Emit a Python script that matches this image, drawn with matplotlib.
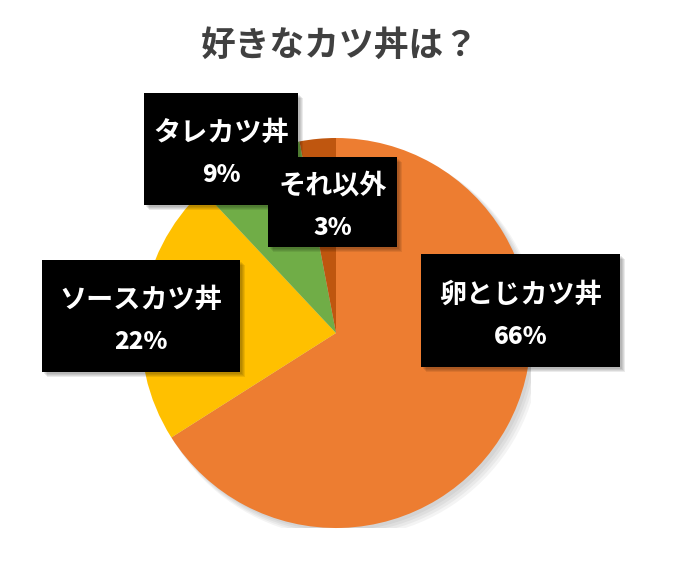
import matplotlib
matplotlib.use("Agg")
import matplotlib.pyplot as plt
from matplotlib.patches import Rectangle, Circle

plt.rcParams['font.family'] = ['Noto Sans CJK JP', 'DejaVu Sans']

title = "好きなカツ丼は？"
categories = ["卵とじカツ丼", "ソースカツ丼", "タレカツ丼", "それ以外"]
values = [66, 22, 9, 3]
colors = ["#ED7D31", "#FFC000", "#70AD47", "#BF560F"]

W, H = 684, 575
fig = plt.figure(figsize=(W / 100, H / 100), dpi=100)
fig.patch.set_facecolor("white")

# pie axes
cx, cy, r = 336, 333, 195
ax = fig.add_axes([(cx - r) / W, (H - cy - r) / H, 2 * r / W, 2 * r / H])
# soft shadow
for i in range(4):
    ax.add_patch(Circle((0.015 + 0.008 * i, -0.015 - 0.008 * i), 1.0 + 0.004 * i,
                        color="black", alpha=0.045, lw=0, zorder=0))
wedges, _ = ax.pie(values, colors=colors, startangle=90, counterclock=False,
                   radius=1.0, wedgeprops=dict(linewidth=0))
ax.set_xlim(-1.0, 1.0)
ax.set_ylim(-1.0, 1.0)
ax.set_aspect("equal")
ax.axis("off")

# overlay in pixel coordinates
ov = fig.add_axes([0, 0, 1, 1], facecolor="none")
ov.set_xlim(0, W)
ov.set_ylim(H, 0)
ov.axis("off")

ov.text(340, 45, title, ha="center", va="center", fontsize=25,
        fontweight="bold", color="#404040")

# label boxes: (x0, y0, x1, y1)
boxes = {
    "卵とじカツ丼": (421, 254, 620, 367),
    "ソースカツ丼": (42, 260, 240, 372),
    "タレカツ丼": (144, 93, 298, 205),
    "それ以外": (268, 157, 397, 247),
}
order = ["タレカツ丼", "ソースカツ丼", "卵とじカツ丼", "それ以外"]
for name in order:
    v = values[categories.index(name)]
    x0, y0, x1, y1 = boxes[name]
    for k in range(4):
        ov.add_patch(Rectangle((x0 + 2 + k, y0 + 2 + k), x1 - x0, y1 - y0,
                               color="black", alpha=0.08, lw=0, zorder=2))
    ov.add_patch(Rectangle((x0, y0), x1 - x0, y1 - y0, color="black",
                           lw=0, zorder=3))
    xm = (x0 + x1) / 2
    ym = (y0 + y1) / 2
    ov.text(xm, ym - 16, name, ha="center", va="center", fontsize=19.5,
            fontweight="bold", color="white", zorder=4)
    ov.text(xm, ym + 26, f"{v}%", ha="center", va="center", fontsize=17.5,
            fontweight="heavy", color="white", zorder=4)

fig.savefig("out.png", dpi=100, facecolor="white")
